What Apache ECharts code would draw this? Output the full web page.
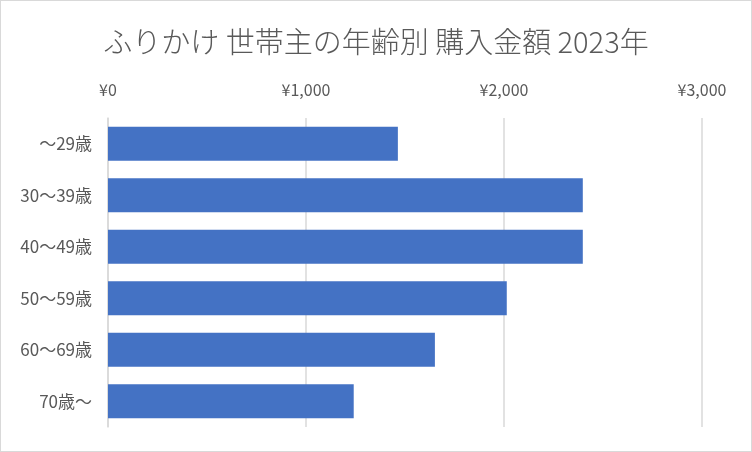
<!DOCTYPE html>
<html><head><meta charset="utf-8">
<script src="https://cdn.jsdelivr.net/npm/echarts@6/dist/echarts.min.js"></script>
<style>html,body{margin:0;padding:0;background:#fff}#c{width:752px;height:452px;box-sizing:border-box;border:1px solid #d9d9d9}</style>
</head><body><div id="c"></div>
<script>
const categories = ['～29歳','30～39歳','40～49歳','50～59歳','60～69歳','70歳～'];
const values = [1464, 2398, 2398, 2014, 1651, 1241];
const chart = echarts.init(document.getElementById('c'));
const font = '"Noto Sans CJK JP", sans-serif';
chart.setOption({
  animation:false,
  title:{text:'ふりかけ 世帯主の年齢別 購入金額 2023年',left:'center',top:21,
    textStyle:{fontFamily:font,fontSize:29,fontWeight:300,color:'#595959'}},
  grid:{left:107,right:49,top:117,bottom:24},
  xAxis:{type:'value',position:'top',min:0,max:3000,interval:1000,
    axisLine:{show:false},axisTick:{show:false},
    splitLine:{lineStyle:{color:'#d9d9d9',width:1.5}},
    axisLabel:{fontFamily:font,fontSize:16,color:'#595959',margin:20,
      formatter:v=>'¥'+v.toLocaleString('en-US')}},
  yAxis:{type:'category',data:categories,inverse:true,
    axisLine:{lineStyle:{color:'#d9d9d9',width:1.5}},axisTick:{show:false},
    axisLabel:{fontFamily:font,fontSize:17,color:'#595959',margin:16}},
  series:[{type:'bar',data:values,barCategoryGap:'34%',itemStyle:{color:'#4472c4'}}]
});
</script></body></html>
